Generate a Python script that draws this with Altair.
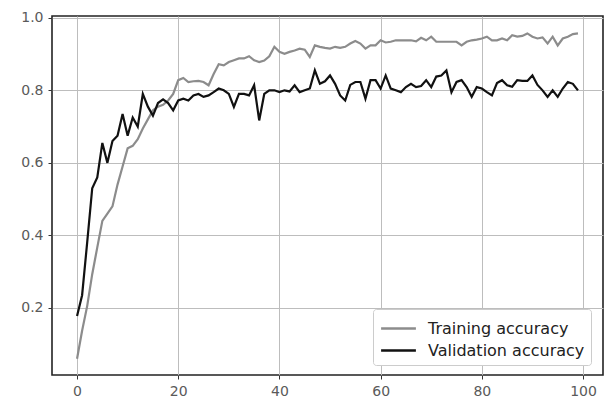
import altair as alt
import pandas as pd

epochs = list(range(100))

training = [
    0.06, 0.137, 0.205, 0.293, 0.367, 0.44, 0.46, 0.48, 0.54, 0.59,
    0.64, 0.647, 0.665, 0.695, 0.72, 0.745, 0.755, 0.76, 0.772, 0.79,
    0.828, 0.834, 0.823, 0.825, 0.826, 0.823, 0.814, 0.845, 0.872, 0.869,
    0.878, 0.883, 0.888, 0.888, 0.894, 0.883, 0.878, 0.882, 0.894, 0.92,
    0.906, 0.901, 0.906, 0.91, 0.915, 0.912, 0.892, 0.924, 0.92, 0.917,
    0.915, 0.92, 0.917, 0.92, 0.929, 0.936, 0.929, 0.915, 0.924, 0.924,
    0.938, 0.932, 0.934, 0.938, 0.938, 0.938, 0.938, 0.935, 0.945, 0.938,
    0.948, 0.934, 0.934, 0.934, 0.934, 0.934, 0.924, 0.934, 0.938, 0.940,
    0.943, 0.948, 0.938, 0.938, 0.943, 0.938, 0.952, 0.948, 0.95, 0.957,
    0.948, 0.943, 0.946, 0.929, 0.948, 0.924, 0.943, 0.948, 0.955, 0.957,
]

validation = [
    0.178, 0.235, 0.38, 0.53, 0.56, 0.655, 0.60, 0.66, 0.675, 0.735,
    0.675, 0.725, 0.70, 0.79, 0.755, 0.73, 0.765, 0.775, 0.765, 0.745,
    0.772, 0.777, 0.772, 0.786, 0.79, 0.782, 0.786, 0.795, 0.805, 0.80,
    0.79, 0.754, 0.79, 0.79, 0.786, 0.814, 0.717, 0.79, 0.80, 0.80,
    0.795, 0.80, 0.797, 0.814, 0.795, 0.80, 0.805, 0.855, 0.818, 0.825,
    0.841, 0.818, 0.786, 0.772, 0.815, 0.823, 0.823, 0.777, 0.828, 0.828,
    0.805, 0.841, 0.805, 0.80, 0.795, 0.809, 0.818, 0.809, 0.812, 0.828,
    0.809, 0.838, 0.841, 0.855, 0.795, 0.823, 0.828, 0.809, 0.782, 0.809,
    0.805, 0.795, 0.786, 0.82, 0.828, 0.814, 0.81, 0.828, 0.826, 0.826,
    0.841, 0.815, 0.80, 0.782, 0.80, 0.782, 0.805, 0.823, 0.818, 0.80,
]

series_names = ["Training accuracy", "Validation accuracy"]
series_colors = ["#8c8c8c", "#111111"]
x_ticks = [0, 20, 40, 60, 80, 100]
y_ticks = [0.2, 0.4, 0.6, 0.8, 1.0]

df = pd.concat([
    pd.DataFrame({"epoch": epochs, "acc": training, "series": series_names[0]}),
    pd.DataFrame({"epoch": epochs, "acc": validation, "series": series_names[1]}),
])

chart = alt.Chart(df).mark_line(strokeWidth=2.2).encode(
    x=alt.X("epoch:Q",
            scale=alt.Scale(domain=[-4.95, 103.95], nice=False, zero=False),
            axis=alt.Axis(values=x_ticks, title=None, format="d")),
    y=alt.Y("acc:Q",
            scale=alt.Scale(domain=[0.015, 1.005], nice=False, zero=False),
            axis=alt.Axis(values=y_ticks, title=None, format=".1f")),
    color=alt.Color("series:N",
                    scale=alt.Scale(domain=series_names, range=series_colors),
                    legend=alt.Legend(title=None, orient="none",
                                      legendX=321, legendY=293,
                                      symbolType="M-1.45,0H1.45", symbolSize=576,
                                      symbolStrokeWidth=2.5, symbolOffset=6,
                                      labelFontSize=16, labelColor="#222",
                                      labelFont="DejaVu Sans", labelOffset=16,
                                      strokeColor="#cccccc", fillColor="white",
                                      padding=6, cornerRadius=3, rowPadding=0)),
    detail="series:N",
).properties(
    width=551, height=359,
    padding={"left": 52, "top": 16, "right": 3, "bottom": 30},
    autosize=alt.AutoSizeParams(type="none"),
).configure_view(
    stroke="#222", strokeWidth=1.6
).configure_axis(
    grid=True, gridColor="#bdbdbd", gridWidth=1,
    domain=False, tickColor="#333", tickSize=4,
    labelColor="#5a5a5a", labelFontSize=14, labelFont="DejaVu Sans",
    labelPadding=5,
)

chart.save("out.html", embed_options={"renderer": "svg", "actions": False})
